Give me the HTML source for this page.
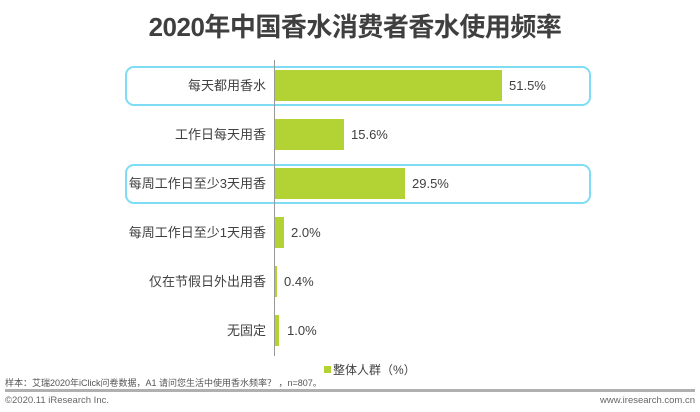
<!DOCTYPE html>
<html><head><meta charset="utf-8"><style>
body{margin:0;width:700px;height:412px;background:#fff;overflow:hidden;position:relative;font-family:"Liberation Sans","Noto Sans CJK SC",sans-serif;color:#404040}
.t{position:absolute;left:0;width:710px;top:7px;text-align:center;font-size:26px;font-weight:bold;color:#3f3f3f;letter-spacing:-0.5px}
.box{position:absolute;left:125px;width:466px;height:38px;border:2px solid #7fdcf5;border-radius:9px;box-sizing:border-box}
.lab{position:absolute;right:434px;font-size:13px;line-height:16px;color:#404040;white-space:nowrap}
.bar{position:absolute;left:275px;height:31px;background:#b3d334}
.val{position:absolute;font-size:13px;line-height:16px;color:#404040}
.ax{position:absolute;left:274px;top:60px;width:1px;height:296px;background:#999}
</style></head><body>
<div class="t">2020年中国香水消费者香水使用频率</div>
<div class="box" style="top:66px;height:40px"></div>
<div class="box" style="top:164px;height:40px"></div>
<div class="ax"></div>
<div class="lab" style="top:78px">每天都用香水</div><div class="bar" style="top:70px;width:227px"></div><div class="val" style="left:509px;top:78px">51.5%</div>
<div class="lab" style="top:127px">工作日每天用香</div><div class="bar" style="top:119px;width:69px"></div><div class="val" style="left:351px;top:127px">15.6%</div>
<div class="lab" style="top:176px">每周工作日至少3天用香</div><div class="bar" style="top:168px;width:130px"></div><div class="val" style="left:412px;top:176px">29.5%</div>
<div class="lab" style="top:225px">每周工作日至少1天用香</div><div class="bar" style="top:217px;width:9px"></div><div class="val" style="left:291px;top:225px">2.0%</div>
<div class="lab" style="top:274px">仅在节假日外出用香</div><div class="bar" style="top:266px;width:2px"></div><div class="val" style="left:284px;top:274px">0.4%</div>
<div class="lab" style="top:323px">无固定</div><div class="bar" style="top:315px;width:4px"></div><div class="val" style="left:287px;top:323px">1.0%</div>
<div style="position:absolute;left:324px;top:366px;width:7px;height:7px;background:#b3d334"></div>
<div style="position:absolute;left:333px;top:361px;font-size:12px;color:#404040">整体人群（%）</div>
<div style="position:absolute;left:5px;top:376px;font-size:9px;color:#555">样本：艾瑞2020年iClick问卷数据，A1 请问您生活中使用香水频率？ ，n=807。</div>
<div style="position:absolute;left:5px;top:389px;width:690px;height:3px;background:#b0b0b0"></div>
<div style="position:absolute;left:5px;top:395px;font-size:9.5px;color:#666">©2020.11 iResearch Inc.</div>
<div style="position:absolute;right:5px;top:395px;font-size:9.5px;color:#666">www.iresearch.com.cn</div>
</body></html>
